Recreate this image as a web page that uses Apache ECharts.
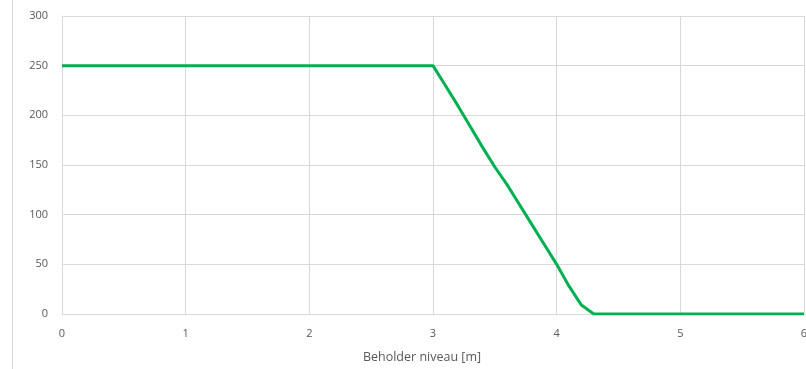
<!DOCTYPE html>
<html><head><meta charset="utf-8">
<script src="https://cdn.jsdelivr.net/npm/echarts@6/dist/echarts.min.js"></script>
<style>html,body{margin:0;padding:0;background:#fff}#c{width:806px;height:369px}</style>
</head><body><div id="c"></div>
<script>
const xValues = [0, 3.0, 3.1, 3.2, 3.3, 3.4, 3.5, 3.6, 3.7, 3.8, 3.9, 4.0, 4.1, 4.2, 4.3, 6];
const yValues = [250, 250, 230, 210, 189, 168, 148, 130, 110, 90, 70, 50, 28, 9, 0, 0];
const xAxisName = 'Beholder niveau [m]';

const chart = echarts.init(document.getElementById('c'), null, {renderer: 'canvas'});
const font = 'Open Sans';
chart.setOption({
  animation: false,
  grid: {left: 62, right: 2, top: 16, bottom: 55, containLabel: false, outerBoundsMode: 'none'},
  graphic: [{type: 'line', shape: {x1: 12.5, y1: 0, x2: 12.5, y2: 369}, style: {stroke: '#d9d9d9', lineWidth: 1}}],
  xAxis: {
    type: 'value', min: 0, max: 6, interval: 1,
    name: xAxisName, nameLocation: 'middle', nameGap: 37,
    nameTextStyle: {color: '#595959', fontSize: 12.5, fontFamily: font, padding: [0, 22, 0, 0]},
    axisLine: {show: true, lineStyle: {color: '#d9d9d9', width: 1}},
    axisTick: {show: false},
    axisLabel: {color: '#595959', fontSize: 11, fontFamily: font, margin: 14},
    splitLine: {show: true, lineStyle: {color: '#d9d9d9', width: 1}}
  },
  yAxis: {
    type: 'value', min: 0, max: 300, interval: 50,
    axisLine: {show: true, lineStyle: {color: '#d9d9d9', width: 1}},
    axisTick: {show: false},
    axisLabel: {color: '#595959', fontSize: 11, fontFamily: font, margin: 14},
    splitLine: {show: true, lineStyle: {color: '#d9d9d9', width: 1}}
  },
  series: [{
    type: 'line',
    data: xValues.map((x, i) => [x, yValues[i]]),
    symbol: 'none',
    lineStyle: {color: '#00b050', width: 3},
    itemStyle: {color: '#00b050'}
  }]
});
</script></body></html>
